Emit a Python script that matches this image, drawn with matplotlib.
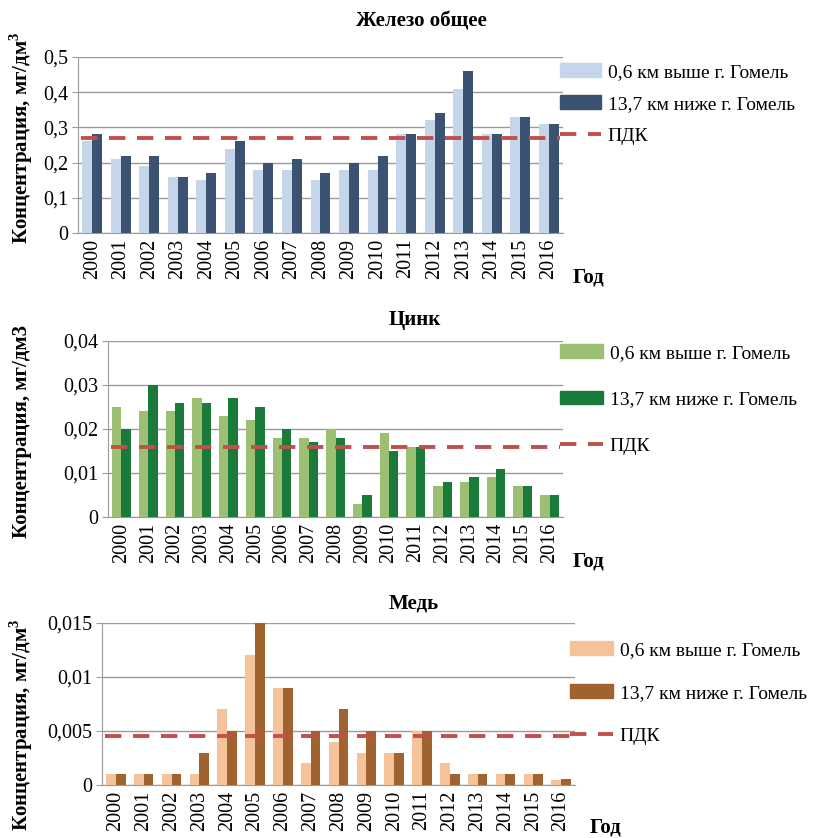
import matplotlib
matplotlib.use("Agg")
import matplotlib.pyplot as plt
import numpy as np
from matplotlib.patches import Patch
from matplotlib.lines import Line2D

plt.rcParams['font.family'] = 'serif'
plt.rcParams['font.serif'] = ['Liberation Serif', 'DejaVu Serif']
plt.rcParams['mathtext.fontset'] = 'custom'
plt.rcParams['mathtext.rm'] = 'Liberation Serif'
plt.rcParams['mathtext.bf'] = 'Liberation Serif:bold'

years = [str(y) for y in range(2000, 2017)]

fe_upper = [0.26, 0.21, 0.19, 0.16, 0.15, 0.24, 0.18, 0.18, 0.15, 0.18, 0.18, 0.28, 0.32, 0.41, 0.28, 0.33, 0.31]
fe_lower = [0.28, 0.22, 0.22, 0.16, 0.17, 0.26, 0.20, 0.21, 0.17, 0.20, 0.22, 0.28, 0.34, 0.46, 0.28, 0.33, 0.31]
fe_pdk = 0.27

zn_upper = [0.025, 0.024, 0.024, 0.027, 0.023, 0.022, 0.018, 0.018, 0.020, 0.003, 0.019, 0.016, 0.007, 0.008, 0.009, 0.007, 0.005]
zn_lower = [0.020, 0.030, 0.026, 0.026, 0.027, 0.025, 0.020, 0.017, 0.018, 0.005, 0.015, 0.016, 0.008, 0.009, 0.011, 0.007, 0.005]
zn_pdk = 0.016

cu_upper = [0.001, 0.001, 0.001, 0.001, 0.007, 0.012, 0.009, 0.002, 0.004, 0.003, 0.003, 0.005, 0.002, 0.001, 0.001, 0.001, 0.0005]
cu_lower = [0.001, 0.001, 0.001, 0.003, 0.005, 0.015, 0.009, 0.005, 0.007, 0.005, 0.003, 0.005, 0.001, 0.001, 0.001, 0.001, 0.0006]
cu_pdk = 0.0045

label_up = "0,6 км выше г. Гомель"
label_down = "13,7 км ниже г. Гомель"
label_pdk = "ПДК"

W, H = 817, 838
fig = plt.figure(figsize=(W / 100, H / 100), dpi=100)


def axrect(l, t, r, b):
    return [l / W, 1 - b / H, (r - l) / W, (b - t) / H]


panels = [
    dict(rect=(78, 57, 563, 233), up=fe_upper, down=fe_lower, pdk=fe_pdk,
         c1="#c5d5ea", c2="#3b5272", ymax=0.5, step=0.1, dec=1,
         title="Железо общее", tx=421, ty=22,
         ylabel="Концентрация, мг/дм$^\\mathbf{3}$", ylx=21, yly=138,
         leg=(560, 63), spacing=0.75, god=(573, 277), hl=2.1),
    dict(rect=(108, 341, 563, 517), up=zn_upper, down=zn_lower, pdk=zn_pdk,
         c1="#9bbf73", c2="#1a7a3a", ymax=0.04, step=0.01, dec=2,
         title="Цинк", tx=415, ty=320,
         ylabel="Концентрация, мг/дм3", ylx=22, yly=431,
         leg=(560, 344), spacing=1.5, god=(573, 561), hl=2.2),
    dict(rect=(102, 623, 575, 785), up=cu_upper, down=cu_lower, pdk=cu_pdk,
         c1="#f4c39a", c2="#a0622e", ymax=0.015, step=0.005, dec=3,
         title="Медь", tx=414, ty=603,
         ylabel="Концентрация, мг/дм$^\\mathbf{3}$", ylx=21, yly=725,
         leg=(570, 641), spacing=1.32, god=(590, 827), hl=2.2),
]

x = np.arange(len(years))
bw = 0.35
dash = (0, (4.2, 3.0))

for p in panels:
    ax = fig.add_axes(axrect(*p["rect"]))
    ax.bar(x - bw / 2, p["up"], width=bw, color=p["c1"], zorder=3)
    ax.bar(x + bw / 2, p["down"], width=bw, color=p["c2"], zorder=3)
    ax.plot([-0.4, len(years) - 0.6], [p["pdk"], p["pdk"]], ls=dash,
            color="#c0504d", lw=2.8, zorder=4)
    ax.set_xlim(-0.5, len(years) - 0.5)
    ax.set_ylim(0, p["ymax"])
    ticks = np.arange(0, p["ymax"] + p["step"] / 2, p["step"])
    ax.set_yticks(ticks)
    labs = []
    for t in ticks:
        if abs(t) < 1e-12:
            labs.append("0")
        else:
            s = f"{t:.{p['dec']}f}".rstrip("0")
            labs.append(s.replace(".", ","))
    ax.set_yticklabels(labs, fontsize=14.5)
    ax.set_xticks(x)
    ax.set_xticklabels(years, rotation=90, fontsize=14.5)
    ax.grid(axis="y", color="#9a9a9a", lw=1, zorder=0)
    for s in ["top", "right"]:
        ax.spines[s].set_visible(False)
    for s in ["left", "bottom"]:
        ax.spines[s].set_color("#9a9a9a")
    ax.tick_params(axis="x", length=0, pad=4)
    ax.tick_params(axis="y", length=4, color="#9a9a9a", pad=3)
    fig.text(p["tx"] / W, 1 - p["ty"] / H, p["title"], ha="center", va="center",
             fontsize=15, fontweight="bold")
    fig.text(p["ylx"] / W, 1 - p["yly"] / H, p["ylabel"], rotation=90,
             ha="center", va="center", fontsize=15, fontweight="bold")
    fig.text(p["god"][0] / W, 1 - p["god"][1] / H, "Год", ha="left", va="center",
             fontsize=15, fontweight="bold")
    handles = [Patch(color=p["c1"]), Patch(color=p["c2"]),
               Line2D([0], [0], color="#c0504d", lw=2.8, ls=dash)]
    fig.legend(handles, [label_up, label_down, label_pdk], loc="upper left",
               bbox_to_anchor=(p["leg"][0] / W, 1 - p["leg"][1] / H),
               frameon=False, fontsize=14, handlelength=p["hl"], handletextpad=0.35,
               labelspacing=p["spacing"], borderaxespad=0, borderpad=0)

fig.savefig("out.png", dpi=100)
